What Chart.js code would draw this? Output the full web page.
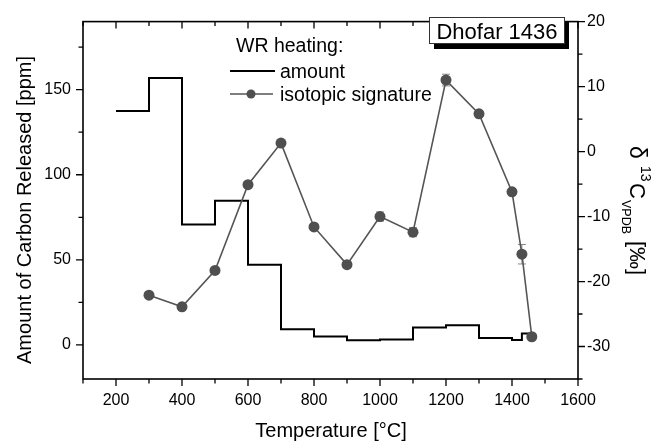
<!DOCTYPE html>
<html>
<head>
<meta charset="utf-8">
<script src="https://cdn.jsdelivr.net/npm/chart.js@4.4.0/dist/chart.umd.min.js"></script>
<style>
html, body { margin: 0; padding: 0; background: #fff; }
#wrap { width: 657px; height: 444px; }
</style>
</head>
<body>
<div id="wrap"><canvas id="chart" width="657" height="444"></canvas></div>
<script>
// heating steps: interval edges (°C) and carbon released in each interval (ppm)
const stepEdges = [200, 300, 400, 500, 600, 700, 800, 900, 1000, 1100, 1200, 1300, 1400, 1430, 1460];
const amountPpm = [137.5, 156.8, 70.8, 84.7, 47.1, 9.3, 4.9, 2.8, 3.2, 10.3, 11.6, 4.1, 2.9, 6.8];

// isotopic signature of each step (delta 13C VPDB, permil) with 1-sigma errors
const isoTemps = [300, 400, 500, 600, 700, 800, 900, 1000, 1100, 1200, 1300, 1400, 1430, 1460];
const isoDelta = [-22.1, -23.9, -18.3, -5.1, 1.3, -11.6, -17.4, -10.0, -12.4, 11.0, 5.8, -6.2, -15.8, -28.5];
const isoError = [0.3, 0.3, 0.3, 0.3, 0.3, 0.3, 0.3, 0.7, 0.7, 0.9, 0.3, 0.3, 1.5, 0.3];

// tick labels
const xTicks = [200, 400, 600, 800, 1000, 1200, 1400, 1600];
const leftTicks = [0, 50, 100, 150];
const rightTicks = [-30, -20, -10, 0, 10, 20];

const FONT = '"Liberation Sans", Arial, sans-serif';

// stepped line: every edge carries the value of the interval that starts there
const amountPoints = stepEdges.map((t, i) => ({
    x: t,
    y: amountPpm[Math.min(i, amountPpm.length - 1)]
}));
const isoPoints = isoTemps.map((t, i) => ({ x: t, y: isoDelta[i] }));

// error bars behind the markers
const errorBars = {
    id: 'errorBars',
    beforeDatasetsDraw(chart) {
        const { ctx, scales } = chart;
        ctx.save();
        ctx.strokeStyle = '#8a8a8a';
        ctx.lineWidth = 1;
        ctx.beginPath();
        isoTemps.forEach((t, i) => {
            const x = scales.x.getPixelForValue(t);
            const y1 = scales.y1.getPixelForValue(isoDelta[i] + isoError[i]);
            const y2 = scales.y1.getPixelForValue(isoDelta[i] - isoError[i]);
            ctx.moveTo(x, y1); ctx.lineTo(x, y2);
            ctx.moveTo(x - 4, y1); ctx.lineTo(x + 4, y1);
            ctx.moveTo(x - 4, y2); ctx.lineTo(x + 4, y2);
        });
        ctx.stroke();
        ctx.restore();
    }
};

// frame, tick marks, legend, sample label and axis titles
const decor = {
    id: 'decor',
    afterDatasetsDraw(chart) {
        const { ctx, chartArea: a, scales } = chart;
        ctx.save();
        ctx.strokeStyle = '#000';
        ctx.lineWidth = 1.6;
        ctx.strokeRect(a.left, a.top, a.right - a.left, a.bottom - a.top);

        ctx.lineWidth = 1.3;
        ctx.beginPath();
        for (let v = 100; v <= 1600; v += 100) {
            const x = scales.x.getPixelForValue(v);
            const len = v % 200 === 0 ? 7 : 4.5;
            ctx.moveTo(x, a.bottom); ctx.lineTo(x, a.bottom + len);
            ctx.moveTo(x, a.top); ctx.lineTo(x, a.top + len);
        }
        for (let v = 0; v <= 175; v += 25) {
            const y = scales.y.getPixelForValue(v);
            const len = v % 50 === 0 ? 7 : 4.5;
            ctx.moveTo(a.left, y); ctx.lineTo(a.left - len, y);
        }
        for (let v = -35; v <= 20; v += 5) {
            const y = scales.y1.getPixelForValue(v);
            const len = v % 10 === 0 ? 7 : 4.5;
            ctx.moveTo(a.right, y); ctx.lineTo(a.right + len, y);
        }
        ctx.stroke();

        // legend
        ctx.fillStyle = '#000';
        ctx.font = '19.5px ' + FONT;
        ctx.textBaseline = 'alphabetic';
        ctx.textAlign = 'left';
        ctx.fillText('WR heating:', 236, 52);
        ctx.fillText('amount', 280, 78);
        ctx.fillText('isotopic signature', 280, 101);
        ctx.strokeStyle = '#000';
        ctx.lineWidth = 2;
        ctx.beginPath(); ctx.moveTo(230, 71); ctx.lineTo(275, 71); ctx.stroke();
        ctx.strokeStyle = '#555';
        ctx.lineWidth = 1.6;
        ctx.beginPath(); ctx.moveTo(230, 94); ctx.lineTo(273, 94); ctx.stroke();
        ctx.fillStyle = '#4f4f4f';
        ctx.beginPath(); ctx.arc(251, 94, 4.5, 0, Math.PI * 2); ctx.fill();

        // sample label with drop shadow
        ctx.fillStyle = '#000';
        ctx.fillRect(434, 22, 135, 27);
        ctx.fillStyle = '#fff';
        ctx.fillRect(429, 17, 135, 26);
        ctx.strokeStyle = '#333';
        ctx.lineWidth = 1;
        ctx.strokeRect(429.5, 17.5, 135, 26);
        ctx.fillStyle = '#000';
        ctx.font = '22px ' + FONT;
        ctx.textAlign = 'center';
        ctx.fillText('Dhofar 1436', 497, 38.5);

        // x title
        ctx.font = '20px ' + FONT;
        ctx.fillText('Temperature [°C]', 331, 437);

        // left title
        ctx.save();
        ctx.translate(31, 210);
        ctx.rotate(-Math.PI / 2);
        ctx.fillText('Amount of Carbon Released [ppm]', 0, 0);
        ctx.restore();

        // right title, reads top to bottom
        ctx.save();
        ctx.translate(630, 0);
        ctx.rotate(Math.PI / 2);
        ctx.textAlign = 'left';
        ctx.font = '23px ' + FONT;
        ctx.fillText('δ', 146, 0);
        ctx.font = '14px ' + FONT;
        ctx.fillText('13', 166, -11);
        ctx.font = '22px ' + FONT;
        ctx.fillText('C', 183, 0);
        ctx.font = '12.5px ' + FONT;
        ctx.fillText('VPDB', 200, 8);
        ctx.font = '22px ' + FONT;
        ctx.fillText('[‰]', 241, 0);
        ctx.restore();

        ctx.restore();
    }
};

new Chart(document.getElementById('chart'), {
    type: 'scatter',
    data: {
        datasets: [
            {
                label: 'isotopic signature',
                data: isoPoints,
                yAxisID: 'y1',
                showLine: true,
                borderColor: '#555',
                borderWidth: 1.6,
                pointRadius: 5.5,
                pointBackgroundColor: '#4f4f4f',
                pointBorderWidth: 0,
                order: 0
            },
            {
                label: 'amount',
                data: amountPoints,
                yAxisID: 'y',
                showLine: true,
                stepped: true,
                borderColor: '#000',
                borderWidth: 2,
                pointRadius: 0,
                order: 1
            }
        ]
    },
    options: {
        responsive: false,
        animation: false,
        devicePixelRatio: 1,
        layout: { padding: { top: 14, left: 0, right: 0, bottom: 0 } },
        plugins: {
            legend: { display: false },
            tooltip: { enabled: false }
        },
        scales: {
            x: {
                type: 'linear',
                min: 100,
                max: 1600,
                grid: { display: false, drawTicks: false },
                border: { display: false },
                afterBuildTicks: s => { s.ticks = xTicks.map(v => ({ value: v })); },
                afterFit: s => { s.height = 65; },
                ticks: {
                    color: '#000', font: { family: FONT, size: 16 }, padding: 12, maxRotation: 0,
                    callback: v => String(v)
                }
            },
            y: {
                type: 'linear',
                position: 'left',
                min: -20,
                max: 190,
                grid: { display: false, drawTicks: false },
                border: { display: false },
                afterBuildTicks: s => { s.ticks = leftTicks.map(v => ({ value: v })); },
                afterFit: s => { s.width = 83; },
                ticks: { color: '#000', font: { family: FONT, size: 16 }, padding: 12 }
            },
            y1: {
                type: 'linear',
                position: 'right',
                min: -35,
                max: 20,
                grid: { display: false, drawTicks: false },
                border: { display: false },
                afterBuildTicks: s => { s.ticks = rightTicks.map(v => ({ value: v })); },
                afterFit: s => { s.width = 79; },
                ticks: { color: '#000', font: { family: FONT, size: 16 }, padding: 9 }
            }
        }
    },
    plugins: [errorBars, decor]
});
</script>
</body>
</html>
